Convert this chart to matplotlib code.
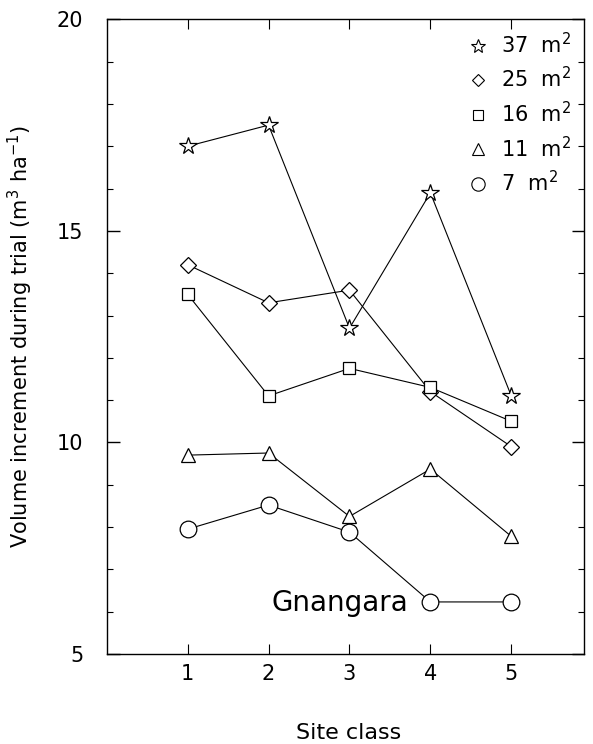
import numpy as np
import matplotlib.pyplot as plt
from matplotlib.lines import Line2D
from matplotlib.ticker import MultipleLocator

plt.rcParams['font.family'] = ['DejaVu Sans']

# site classes and volume increment per plot size (m3/ha)
site_class = [1, 2, 3, 4, 5]
v37 = [17.0, 17.5, 12.7, 15.9, 11.1]
v25 = [14.2, 13.3, 13.6, 11.2, 9.9]
v16 = [13.5, 11.1, 11.75, 11.3, 10.5]
v11 = [9.7, 9.75, 8.25, 9.37, 7.78]
v7 = [7.95, 8.52, 7.88, 6.23, 6.23]

labels = ['37  m$^2$', '25  m$^2$', '16  m$^2$', '11  m$^2$', '7  m$^2$']
series = [v37, v25, v16, v11, v7]
markers = ['*', 'D', 's', '^', 'o']
msizes = [13, 8, 8.5, 10, 12]

fig = plt.figure(figsize=(5.93, 7.44), dpi=100)
ax = fig.add_axes([0.180, 0.121, 0.805, 0.853])

handles = []
for vals, m, ms, lab in zip(series, markers, msizes, labels):
    ax.plot(site_class, vals, color='black', linewidth=0.8,
            marker=m, markersize=ms, markerfacecolor='white',
            markeredgecolor='black', markeredgewidth=0.9, zorder=2)
    handles.append(Line2D([], [], linestyle='none', marker=m,
                          markersize=ms * 0.8, markerfacecolor='white',
                          markeredgecolor='black', markeredgewidth=0.8, label=lab))

ax.set_xlim(0, 5.9)
ax.set_ylim(5, 20)
ax.set_xticks(site_class)
ax.yaxis.set_major_locator(MultipleLocator(5))
ax.yaxis.set_minor_locator(MultipleLocator(1))

ax.tick_params(axis='both', which='both', direction='in', top=True, right=True)
ax.tick_params(axis='y', which='major', length=9, width=1, labelsize=15, pad=17)
ax.tick_params(axis='y', which='minor', length=4, width=0.8)
ax.tick_params(axis='x', which='major', length=7, width=0.8, labelsize=15, pad=7)
for s in ax.spines.values():
    s.set_linewidth(1.0)

ax.set_xlabel('Site class', fontsize=16)
ax.xaxis.set_label_coords(0.507, -0.109)
ax.set_ylabel('Volume increment during trial (m$^3$ ha$^{-1}$)', fontsize=15)
ax.yaxis.set_label_coords(-0.15, 0.5)

ax.text(2.88, 6.2, 'Gnangara', fontsize=20, ha='center', va='center')

ax.legend(handles=handles, loc='upper right', frameon=False, fontsize=15,
          numpoints=1, handlelength=1.2, handletextpad=0.5, labelspacing=0.45,
          borderaxespad=0.2)

plt.savefig('out.png', dpi=100)
